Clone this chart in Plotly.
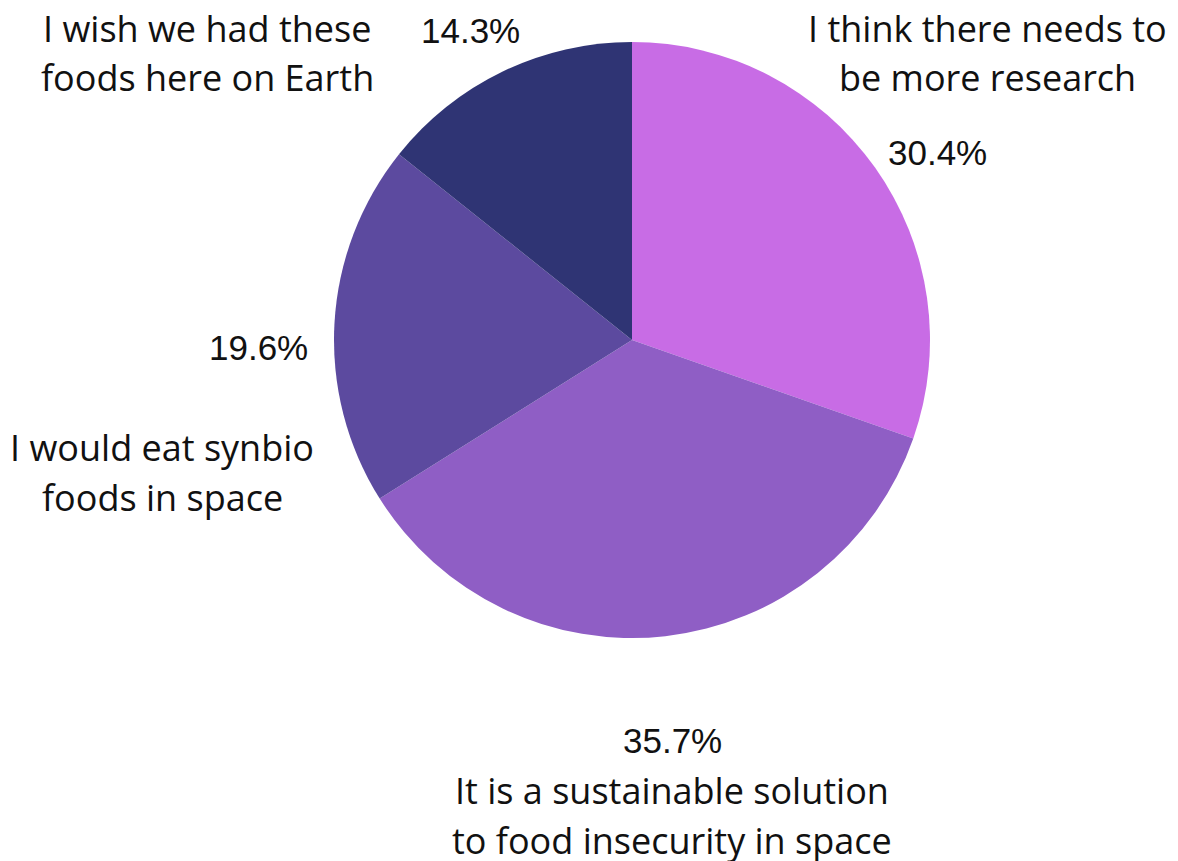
import plotly.graph_objects as go

# Data
categories = [
    "I think there needs to<br>be more research",
    "It is a sustainable solution<br>to food insecurity in space",
    "I would eat synbio<br>foods in space",
    "I wish we had these<br>foods here on Earth",
]
counts = [17, 20, 11, 8]
colors = ["#C86CE5", "#8F5EC5", "#5C4A9F", "#2F3474"]

W, H = 1178, 861
OFF = 8  # page body margin
FW, FH = W - OFF, H - OFF
total = sum(counts)
pcts = [f"{100 * c / total:.1f}%" for c in counts]

# label layout (pixel centres in window): (pct_x, pct_y, cat_x, cat_first_line_y)
label_pos = [
    (937, 152, 987, 28),
    (672, 740, 672, 790),
    (258, 347, 162, 447),
    (470, 30, 207, 28),
]
LINE_GAP = 50


def px(x):
    return (x - OFF) / FW


def py(y):
    return 1 - (y - OFF) / FH


cx, cy, r = 632, 340, 298
fig = go.Figure(go.Pie(
    labels=[c.replace("<br>", " ") for c in categories],
    values=counts,
    marker=dict(colors=colors, line=dict(width=0)),
    sort=False,
    direction="clockwise",
    rotation=0,
    textinfo="none",
    hoverinfo="label+percent",
    showlegend=False,
    domain=dict(x=[px(cx - r), px(cx + r)], y=[py(cy + r), py(cy - r)]),
))

annotations = []
for cat, pct, (ax, ay, qx, qy) in zip(categories, pcts, label_pos):
    annotations.append(dict(
        text=pct, x=px(ax), y=py(ay), xref="paper", yref="paper",
        xanchor="center", yanchor="middle", showarrow=False,
        font=dict(family="Liberation Sans, Arial", size=35, color="#111111"),
    ))
    for i, line in enumerate(cat.split("<br>")):
        annotations.append(dict(
            text=line, x=px(qx), y=py(qy + i * LINE_GAP), xref="paper", yref="paper",
            xanchor="center", yanchor="middle", showarrow=False, align="center",
            font=dict(family="Open Sans", size=36, color="#111111"),
        ))

fig.update_layout(
    width=FW, height=FH,
    margin=dict(l=0, r=0, t=0, b=0),
    paper_bgcolor="white", plot_bgcolor="white",
    annotations=annotations,
)

fig.write_html("out.html")
